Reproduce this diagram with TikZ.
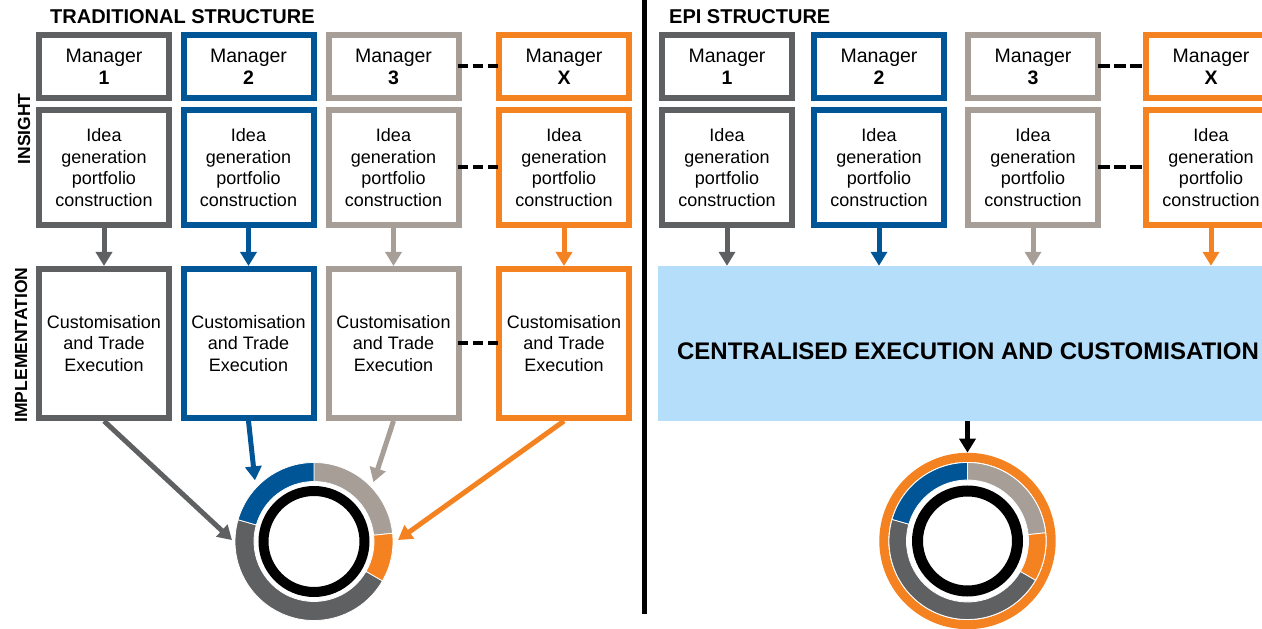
\documentclass[tikz,border=0pt]{standalone}
\usepackage{fontspec}
\setmainfont{Liberation Sans}
\usetikzlibrary{arrows.meta,calc}
\definecolor{mgrdark}{RGB}{95,96,98}
\definecolor{mgrblue}{RGB}{0,85,150}
\definecolor{mgrlight}{RGB}{166,158,151}
\definecolor{mgrorange}{RGB}{245,130,32}
\definecolor{execblue}{RGB}{181,222,251}

\begin{document}
\begin{tikzpicture}[x=1pt,y=1pt,
    mgrbox/.style={draw=#1, line width=6pt, fill=white, minimum width=130pt,
        inner sep=0pt, outer sep=3pt, align=center,
        font=\fontsize{18}{21.5}\selectfont},
    headbox/.style={mgrbox=#1, minimum height=63pt, font=\fontsize{19.5}{22}\selectfont},
    ideabox/.style={mgrbox=#1, minimum height=115pt},
    implbox/.style={mgrbox=#1, minimum height=149pt},
    flow/.style={draw=#1, line width=5pt, -{Triangle[width=16pt,length=14pt]}},
    gap/.style={draw=black, line width=4pt, dash pattern=on 10pt off 5pt,
        shorten <=-4pt, shorten >=-2pt},
    title/.style={inner sep=0pt, font=\bfseries\fontsize{20}{24}\selectfont},
    side/.style={inner sep=0pt, rotate=90, font=\bfseries\fontsize{17.5}{21}\selectfont}]
    \useasboundingbox (0,0) rectangle (1262,629);
    \clip (0,0) rectangle (1262,629);

    % Traditional structure
    \node[title, anchor=west] (tradtitle) at (50,612) {TRADITIONAL STRUCTURE};
    \node[side] (insight) at (24,500) {INSIGHT};
    \node[side] (implement) at (21,284) {IMPLEMENTATION};

    \node[headbox=mgrdark] (m1) at (104,562.5) {Manager\\\textbf{1}};
    \node[headbox=mgrblue] (m2) at (248.5,562.5) {Manager\\\textbf{2}};
    \node[headbox=mgrlight] (m3) at (393.5,562.5) {Manager\\\textbf{3}};
    \node[headbox=mgrorange] (mx) at (564,562.5) {Manager\\\textbf{X}};

    \node[ideabox=mgrdark] (i1) at (104,461.5) {Idea\\generation\\portfolio\\construction};
    \node[ideabox=mgrblue] (i2) at (248.5,461.5) {Idea\\generation\\portfolio\\construction};
    \node[ideabox=mgrlight] (i3) at (393.5,461.5) {Idea\\generation\\portfolio\\construction};
    \node[ideabox=mgrorange] (ix) at (564,461.5) {Idea\\generation\\portfolio\\construction};

    \node[implbox=mgrdark] (t1) at (104,285.5) {Customisation\\and Trade\\Execution};
    \node[implbox=mgrblue] (t2) at (248.5,285.5) {Customisation\\and Trade\\Execution};
    \node[implbox=mgrlight] (t3) at (393.5,285.5) {Customisation\\and Trade\\Execution};
    \node[implbox=mgrorange] (tx) at (564,285.5) {Customisation\\and Trade\\Execution};

    \draw[gap] (m3.east) -- (mx.west);
    \draw[gap] (i3.east) -- (ix.west);
    \draw[gap] (t3.east) -- (tx.west);

    \draw[flow=mgrdark] (i1) -- (t1);
    \draw[flow=mgrblue] (i2) -- (t2);
    \draw[flow=mgrlight] (i3) -- (t3);
    \draw[flow=mgrorange] (ix) -- (tx);

    % Traditional portfolio
    \coordinate (tradpie) at (314,87.5);
    \foreach \from/\to/\col in {90/6/mgrlight, 6/-30/mgrorange, -30/-196/mgrdark, 164/90/mgrblue}
        \filldraw[fill=\col, draw=white, line width=0.8pt]
            ($(tradpie)+(\from:79)$) arc[start angle=\from, end angle=\to, radius=79]
            -- ($(tradpie)+(\to:60)$) arc[start angle=\to, end angle=\from, radius=60] -- cycle;
    \draw[line width=10pt] (tradpie) circle[radius=50.5];

    \coordinate (pie1) at ($(tradpie)+(179:82)$);
    \coordinate (pie2) at ($(tradpie)+(134:85)$);
    \coordinate (pie3) at ($(tradpie)+(45:84)$);
    \coordinate (piex) at ($(tradpie)+(1:84)$);
    \draw[flow=mgrdark] (t1.south) -- (pie1);
    \draw[flow=mgrblue] (t2.south) -- (pie2);
    \draw[flow=mgrlight] (t3.south) -- (pie3);
    \draw[flow=mgrorange] (tx.south) -- (piex);

    % Divider
    \draw[line width=5pt] (644,629) -- (644,15);

    % EPI structure
    \node[title, anchor=west] (epititle) at (669,612) {EPI STRUCTURE};

    \node[headbox=mgrdark] (e1) at (727,562.5) {Manager\\\textbf{1}};
    \node[headbox=mgrblue] (e2) at (879,562.5) {Manager\\\textbf{2}};
    \node[headbox=mgrlight] (e3) at (1033,562.5) {Manager\\\textbf{3}};
    \node[headbox=mgrorange] (ex) at (1211,562.5) {Manager\\\textbf{X}};

    \node[ideabox=mgrdark] (g1) at (727,461.5) {Idea\\generation\\portfolio\\construction};
    \node[ideabox=mgrblue] (g2) at (879,461.5) {Idea\\generation\\portfolio\\construction};
    \node[ideabox=mgrlight] (g3) at (1033,461.5) {Idea\\generation\\portfolio\\construction};
    \node[ideabox=mgrorange] (gx) at (1211,461.5) {Idea\\generation\\portfolio\\construction};

    \draw[gap, dash pattern=on 12pt off 4pt, shorten <=-3pt, shorten >=-1pt] (e3.east) -- (ex.west);
    \draw[gap, dash pattern=on 12pt off 4pt, shorten <=-3pt, shorten >=-1pt] (g3.east) -- (gx.west);

    \node[fill=execblue, minimum width=621pt, minimum height=155pt, inner sep=0pt,
        text height=33pt, font=\bfseries\fontsize{24}{28}\selectfont] (central) at (968,285.5)
        {CENTRALISED EXECUTION AND CUSTOMISATION};

    \draw[flow=mgrdark] (g1.south) -- (g1.south |- central.north);
    \draw[flow=mgrblue] (g2.south) -- (g2.south |- central.north);
    \draw[flow=mgrlight] (g3.south) -- (g3.south |- central.north);
    \draw[flow=mgrorange] (gx.south) -- (gx.south |- central.north);

    % EPI portfolio
    \coordinate (epipie) at (967.5,88);
    \draw[mgrorange, line width=9pt] (epipie) circle[radius=83.7];
    \foreach \from/\to/\col in {90/6/mgrlight, 6/-30/mgrorange, -30/-196/mgrdark, 164/90/mgrblue}
        \filldraw[fill=\col, draw=white, line width=0.8pt]
            ($(epipie)+(\from:78.5)$) arc[start angle=\from, end angle=\to, radius=78.5]
            -- ($(epipie)+(\to:61)$) arc[start angle=\to, end angle=\from, radius=61] -- cycle;
    \draw[line width=11pt] (epipie) circle[radius=50];

    \coordinate (epitop) at ($(epipie)+(90:88.3)$);
    \draw[flow=black] (central.south -| epitop) -- (epitop);
\end{tikzpicture}
\end{document}
